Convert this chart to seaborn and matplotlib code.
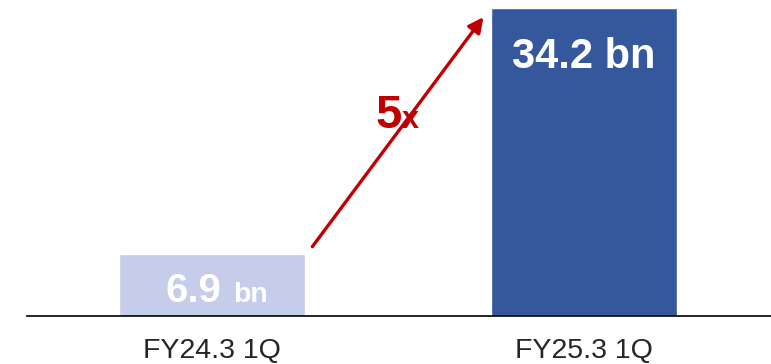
import matplotlib
matplotlib.use("Agg")
import matplotlib.pyplot as plt
import seaborn as sns
import pandas as pd

periods = ["FY24.3 1Q", "FY25.3 1Q"]
values = [6.9, 34.2]
bar_colors = ["#C5CDEB", "#35589C"]
multiple_label = "5"

sns.set_style("white")
plt.rcParams["font.family"] = ["Liberation Sans", "DejaVu Sans"]

df = pd.DataFrame({"period": periods, "value": values})

fig = plt.figure(figsize=(7.71, 3.64), dpi=100)
ax = fig.add_axes([27 / 771, 48 / 364, 1 - 27 / 771, 1 - 48 / 364])
sns.barplot(data=df, x="period", y="value", hue="period", palette=bar_colors,
            width=0.5, legend=False, ax=ax, saturation=1)

ax.set_xlim(-0.497, 1.503)
ax.set_ylim(0, 35.1)
ax.set_xlabel("")
ax.set_ylabel("")
ax.set_yticks([])
for s in ["top", "right", "left"]:
    ax.spines[s].set_visible(False)
ax.spines["bottom"].set_color("black")
ax.spines["bottom"].set_linewidth(1.2)
ax.tick_params(axis="x", length=0, pad=16, labelsize=20.5)

# value labels
ax.annotate(f"{values[0]}", (0, 1.55), xytext=(7, 0), textcoords="offset points",
            ha="right", va="baseline", fontsize=29, fontweight="bold", color="white")
ax.annotate("bn", (0, 1.55), xytext=(15, 0), textcoords="offset points",
            ha="left", va="baseline", fontsize=20.5, fontweight="bold", color="white")
ax.text(1, values[1] - 6.7, f"{values[1]} bn", ha="center", va="baseline",
        fontsize=30, fontweight="bold", color="white")

# growth arrow
ax.annotate("", xy=(1 - 0.27, values[1] - 1.0), xytext=(0.27, values[0] + 0.8),
            arrowprops=dict(arrowstyle="-|>,head_length=0.9,head_width=0.45",
                            color="#C00000", lw=2.4, shrinkA=0, shrinkB=0))
ax.text(0.51, 20.9, multiple_label, ha="right", va="baseline", fontsize=34,
        fontweight="bold", color="#C00000")
ax.text(0.51, 20.9, "x", ha="left", va="baseline", fontsize=22,
        fontweight="bold", color="#C00000")

fig.savefig("out.png", dpi=100)
